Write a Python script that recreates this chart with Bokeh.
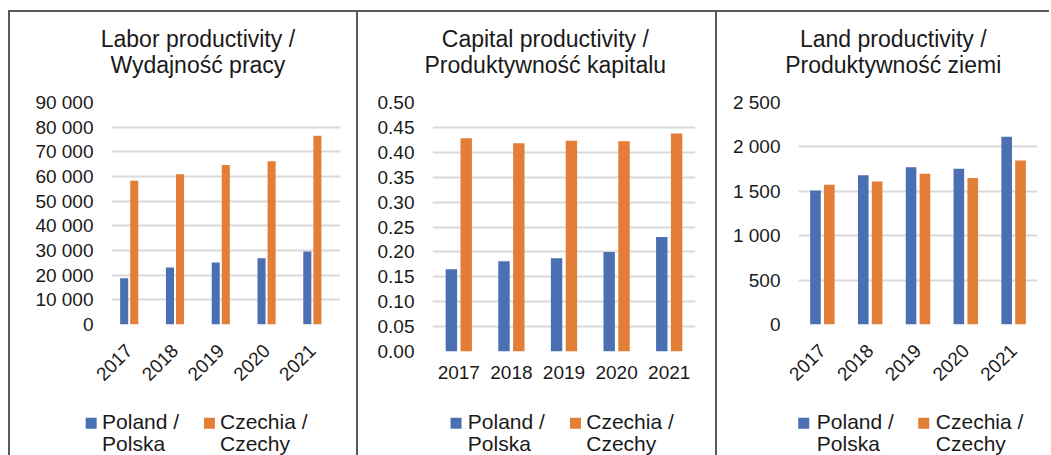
import math
from bokeh.plotting import figure
from bokeh.models import Range1d, FixedTicker, Label, ColumnDataSource
from bokeh.transform import dodge
from bokeh.layouts import row, column
from bokeh.embed import file_html
from bokeh.resources import INLINE

# ---------------- data ----------------
years = ["2017", "2018", "2019", "2020", "2021"]
year_index = [0, 1, 2, 3, 4]
series_lines = [["Poland /", "Polska"], ["Czechia /", "Czechy"]]

labor_poland = [18700, 23100, 25100, 26900, 29600]
labor_czechia = [58300, 60900, 64700, 66200, 76500]
labor_ticks = [0, 10000, 20000, 30000, 40000, 50000, 60000, 70000, 80000, 90000]
labor_tick_labels = ["0", "10 000", "20 000", "30 000", "40 000", "50 000",
                     "60 000", "70 000", "80 000", "90 000"]
labor_title = ["Labor productivity /", "Wydajność pracy"]

capital_poland = [0.165, 0.181, 0.187, 0.200, 0.230]
capital_czechia = [0.428, 0.418, 0.423, 0.422, 0.438]
capital_ticks = [0.0, 0.05, 0.1, 0.15, 0.2, 0.25, 0.3, 0.35, 0.4, 0.45, 0.5]
capital_tick_labels = ["0.00", "0.05", "0.10", "0.15", "0.20", "0.25",
                       "0.30", "0.35", "0.40", "0.45", "0.50"]
capital_title = ["Capital productivity /", "Produktywność kapitalu"]

land_poland = [1510, 1680, 1770, 1755, 2115]
land_czechia = [1575, 1610, 1697, 1650, 1847]
land_ticks = [0, 500, 1000, 1500, 2000, 2500]
land_tick_labels = ["0", "500", "1 000", "1 500", "2 000", "2 500"]
land_title = ["Land productivity /", "Produktywność ziemi"]

# ---------------- style / layout (page pixels) ----------------
BLUE = "#4A6FB2"
ORANGE = "#E27E36"
SERIES_COLORS = [BLUE, ORANGE]
TEXT = "#1a1a1a"
GRID = "#DADADA"
FRAME = "#5a5a5a"
FONT = "Liberation Sans"
TOP = 12            # canvas top (below the 2px frame line at 10-11)
TITLE_END = 86      # title strip ends / chart canvas starts
CHART_END = 400     # chart canvas ends / legend strip starts
PAGE_END = 455
PLOT_TOP = 102      # highest gridline
TITLE_MIDDLES = (37.4, 63.6)      # vertical centres of the title lines
LEGEND_MIDDLES = (421.0, 443.0)   # vertical centres of the legend lines
SWATCH_Y = 422.7


def strip(host_w, canvas_left, y0, y1, border_top):
    f = figure(width=host_w, height=(y1 - y0) + (2 if border_top else 0),
               output_backend="svg", toolbar_location=None, title=None,
               x_range=Range1d(canvas_left, canvas_left + host_w - 2),
               y_range=Range1d(y1, y0),
               x_axis_location=None, y_axis_location=None,
               min_border_left=0, min_border_right=0,
               min_border_top=0, min_border_bottom=0)
    f.frame_align = False
    f.outline_line_color = None
    f.grid.visible = False
    st = {"border-left": f"2px solid {FRAME}"}
    if border_top:
        st["border-top"] = f"2px solid {FRAME}"
    f.styles = st
    return f


def make_panel(title, pl, cz, ticks, tick_labels, ymax, host_w, margin_left,
               canvas_left, left, right, frame_bottom, xrange, bar_w, off,
               rotate, title_cx, swatch_x, text_x, xstandoff):
    # ---- title strip ----
    tf = strip(host_w, canvas_left, TOP, TITLE_END, True)
    for line, mid in zip(title, TITLE_MIDDLES):
        tf.add_layout(Label(x=title_cx, y=mid, text=line, text_align="center",
                            text_baseline="middle", text_font=FONT,
                            text_font_size="23px", text_color=TEXT))

    # ---- chart ----
    p = figure(width=host_w, height=CHART_END - TITLE_END,
               output_backend="svg", toolbar_location=None, title=None,
               x_range=Range1d(*xrange), y_range=Range1d(0, ymax),
               min_border_left=left, min_border_right=right,
               min_border_top=PLOT_TOP - TITLE_END,
               min_border_bottom=CHART_END - frame_bottom)
    p.frame_align = False
    p.outline_line_color = None
    p.styles = {"border-left": f"2px solid {FRAME}"}

    src = ColumnDataSource(dict(x=year_index, pl=pl, cz=cz))
    p.vbar(x=dodge("x", -off), top="pl", width=bar_w, source=src,
           fill_color=BLUE, line_color=None)
    p.vbar(x=dodge("x", off), top="cz", width=bar_w, source=src,
           fill_color=ORANGE, line_color=None)

    p.yaxis.ticker = FixedTicker(ticks=ticks)
    p.yaxis.major_label_overrides = dict(zip(ticks, tick_labels))
    p.xaxis.ticker = FixedTicker(ticks=year_index)
    p.xaxis.major_label_overrides = dict(zip(year_index, years))
    for ax in (p.xaxis, p.yaxis):
        ax.axis_line_color = None
        ax.major_tick_line_color = None
        ax.minor_tick_line_color = None
        ax.major_tick_out = 0
        ax.major_tick_in = 0
        ax.major_label_text_font = FONT
        ax.major_label_text_font_size = "19px"
        ax.major_label_text_color = TEXT
    p.yaxis.major_label_standoff = 18
    p.xaxis.major_label_standoff = xstandoff
    if rotate:
        p.xaxis.major_label_orientation = math.pi / 4

    p.xgrid.grid_line_color = None
    p.ygrid.ticker = FixedTicker(ticks=ticks)
    p.ygrid.grid_line_color = GRID
    p.ygrid.grid_line_width = 2

    # ---- legend strip ----
    lg = strip(host_w, canvas_left, CHART_END, PAGE_END, False)
    lg.rect(x=swatch_x, y=[SWATCH_Y, SWATCH_Y], width=11, height=11,
            width_units="screen", height_units="screen",
            fill_color=SERIES_COLORS, line_color=None)
    for tx, lines in zip(text_x, series_lines):
        for line, mid in zip(lines, LEGEND_MIDDLES):
            lg.add_layout(Label(x=tx, y=mid, text=line, text_align="left",
                                text_baseline="middle", text_font=FONT,
                                text_font_size="21px", text_color=TEXT))

    return column(tf, p, lg, margin=(10, 0, 0, margin_left))


p1 = make_panel(labor_title, labor_poland, labor_czechia, labor_ticks,
                labor_tick_labels, 90000, 348, 8, 10, 101, 18, 324,
                (-0.387, 4.615), 0.176, 0.11, True, 196.3,
                [90.2, 207.8], [101, 218.3], 23)
p2 = make_panel(capital_title, capital_poland, capital_czechia, capital_ticks,
                capital_tick_labels, 0.5, 359, 0, 358, 74, 22, 351,
                (-0.5, 4.5), 0.217, 0.141, False, 543.8,
                [455.0, 573.8], [466.7, 584.5], 14)
p3 = make_panel(land_title, land_poland, land_czechia, land_ticks,
                land_tick_labels, 2500, 334, 0, 717, 81, 14, 324,
                (-0.5, 4.5), 0.222, 0.145, True, 891.7,
                [802.7, 922.0], [815.7, 934.0], 23)

layout = row(p1, p2, p3)
open("out.html", "w").write(file_html(layout, INLINE))
